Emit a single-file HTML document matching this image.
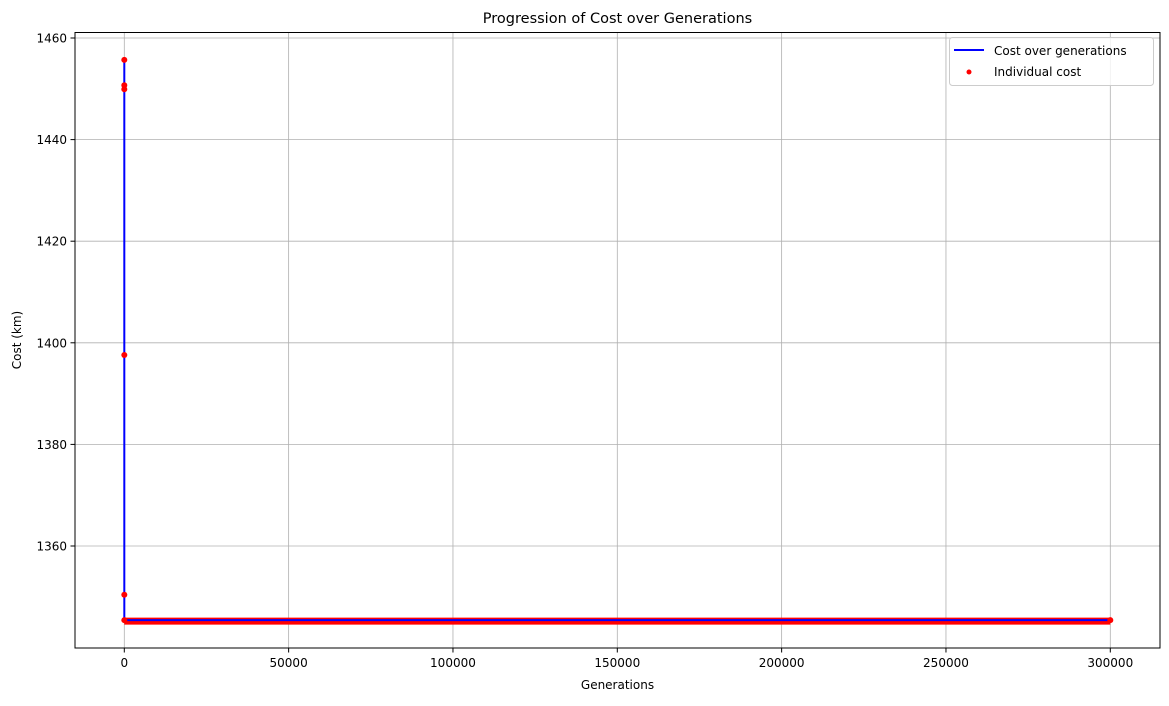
<!DOCTYPE html>
<html><head><meta charset="utf-8"><style>
body{margin:0;background:#fff;}
svg text{font-family:"DejaVu Sans","Liberation Sans",sans-serif;fill:#000;}
</style></head><body>
<svg id="chart" width="1169" height="701" xmlns="http://www.w3.org/2000/svg">
<rect width="1169" height="701" fill="#fff"/>
<text x="617.5" y="23" font-size="14.5" text-anchor="middle">Progression of Cost over Generations</text>
<g id="grid"></g>
<g id="xticks"></g>
<g id="yticks"></g>
<g id="marks"></g>
<rect x="75" y="32.5" width="1085" height="615.5" fill="none" stroke="#000" stroke-width="1"/>
<text x="617.5" y="689" font-size="12" text-anchor="middle">Generations</text>
<text transform="translate(21,340) rotate(-90)" font-size="12" text-anchor="middle">Cost (km)</text>
<g>
<rect x="949.5" y="37.5" width="204" height="48" rx="3" fill="#fff" fill-opacity="0.8" stroke="#ccc"/>
<line x1="954" y1="50" x2="984" y2="50" stroke="#0000ff" stroke-width="2"/>
<text x="994" y="55" font-size="12">Cost over generations</text>
<circle cx="969" cy="72" r="2.5" fill="#ff0000"/>
<text x="994" y="76" font-size="12">Individual cost</text>
</g>
</svg>
<script>
const xTicks=[0,50000,100000,150000,200000,250000,300000];
const yTicks=[1360,1380,1400,1420,1440,1460];
const gens=[0,1,2,3,4,5,300000];
const costs=[1455.7,1450.7,1449.9,1397.6,1350.4,1345.4,1345.4];
const NS="http://www.w3.org/2000/svg";
const X=v=>124.3+(v-0)*(1110.3-124.3)/300000;
const Y=v=>546-(v-1360)*(546-38)/100;
function mk(tag,attrs,parent){const e=document.createElementNS(NS,tag);for(const k in attrs)e.setAttribute(k,attrs[k]);document.getElementById(parent).appendChild(e);return e;}
xTicks.forEach(t=>{
 const g=mk('line',{x1:X(t),x2:X(t),y1:32.5,y2:648,stroke:'#b0b0b0','stroke-width':0.8},'grid');
 
 
 const tk=mk('line',{x1:X(t),x2:X(t),y1:648,y2:652.5,stroke:'#000'},'xticks');
 
 
 const tx=mk('text',{x:X(t),y:667,'font-size':12,'text-anchor':'middle'},'xticks');
 tx.textContent=t;
 
 
});
yTicks.forEach(t=>{
 const g=mk('line',{x1:75,x2:1160,y1:Y(t),y2:Y(t),stroke:'#b0b0b0','stroke-width':0.8},'grid');
 
 
 const tk=mk('line',{x1:70.5,x2:75,y1:Y(t),y2:Y(t),stroke:'#000'},'yticks');
 
 
 const tx=mk('text',{x:67,y:Y(t)+4.5,'font-size':12,'text-anchor':'end'},'yticks');
 tx.textContent=t;
 
 
});
for(let i=1;i<gens.length;i++){
 if(costs[i]===costs[i-1]&&gens[i]-gens[i-1]>1){
  const b=mk('line',{x1:X(gens[i-1]),x2:X(gens[i]),y1:Y(costs[i])+1,y2:Y(costs[i])+1,stroke:'#ff0000','stroke-width':7},'marks');
  
  
 }
}
const pts=gens.map((g,i)=>X(g)+','+Y(costs[i])).join(' ');
const line=mk('polyline',{points:pts,fill:'none',stroke:'#0000ff','stroke-width':2},'marks');


gens.forEach((g,i)=>{
 const c=mk('circle',{cx:X(g),cy:Y(costs[i]),r:3,fill:'#ff0000'},'marks');
 
 
});
</script>
</body></html>
